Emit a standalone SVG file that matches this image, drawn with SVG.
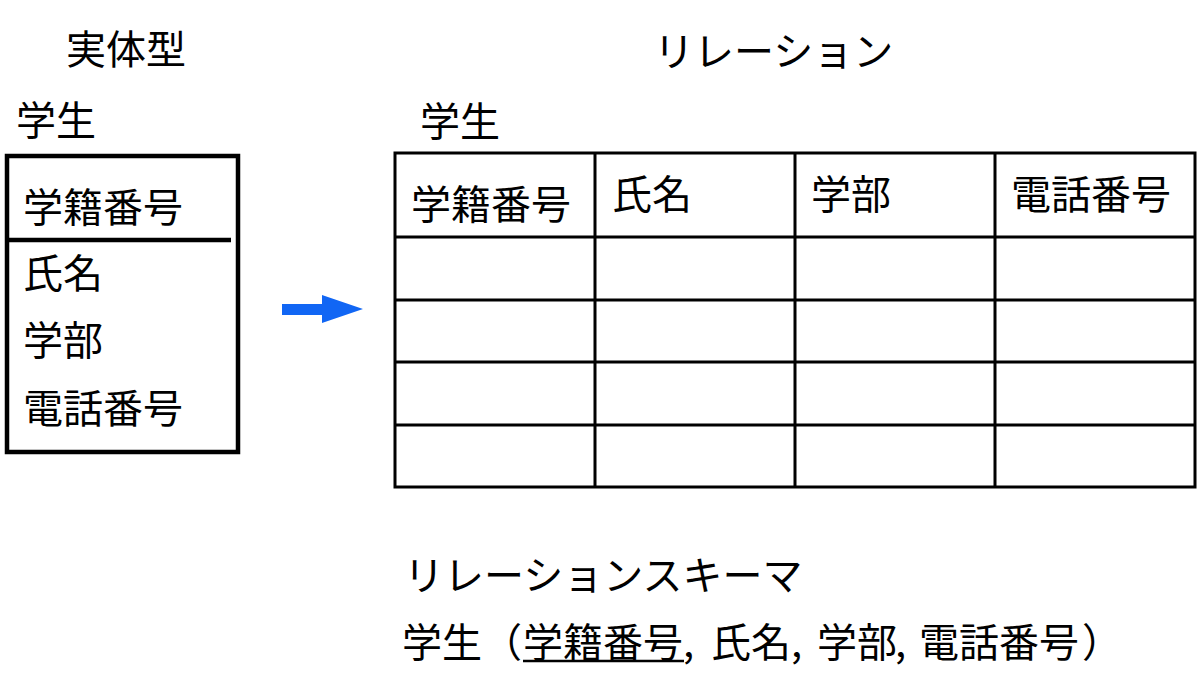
<svg xmlns="http://www.w3.org/2000/svg" width="1200" height="679" viewBox="0 0 1200 679">
<style>
text{font-family:"Noto Sans CJK JP","Noto Sans",sans-serif;font-size:40px;fill:#000}
.box{fill:none;stroke:#000;stroke-width:4.5}
.grid{stroke:#000;stroke-width:3;fill:none}
</style>
<rect width="1200" height="679" fill="#fff"/>
<text x="66" y="64">実体型</text>
<text x="654" y="66">リレーション</text>
<g id="entity">
<text x="16" y="135">学生</text>
<rect class="box" x="7" y="156" width="231" height="296"/>
<line class="box" x1="8" y1="240" x2="231" y2="240"/>
<text x="23" y="222">学籍番号</text>
<text x="23" y="288">氏名</text>
<text x="23" y="355">学部</text>
<text x="23" y="423">電話番号</text>
</g>
<g id="connectors">
<polygon points="282,304 322,304 322,295 363,309 322,323 322,315 282,315" fill="#1166F4"/>
</g>
<g id="relation">
<text x="420" y="136">学生</text>
<rect class="grid" x="395" y="153" width="800" height="334"/>
<line class="grid" x1="395" y1="237" x2="1195" y2="237"/>
<line class="grid" x1="395" y1="300" x2="1195" y2="300"/>
<line class="grid" x1="395" y1="362" x2="1195" y2="362"/>
<line class="grid" x1="395" y1="425" x2="1195" y2="425"/>
<line class="grid" x1="595" y1="153" x2="595" y2="487"/>
<line class="grid" x1="795" y1="153" x2="795" y2="487"/>
<line class="grid" x1="995" y1="153" x2="995" y2="487"/>
<text x="411" y="219">学籍番号</text>
<text x="612" y="209">氏名</text>
<text x="811" y="209">学部</text>
<text x="1011" y="209">電話番号</text>
</g>
<g id="schema">
<text x="404" y="590">リレーションスキーマ</text>
<text y="657"><tspan x="402">学生</tspan><tspan x="482">（</tspan><tspan x="523">学籍番号</tspan><tspan x="683">,</tspan><tspan x="711">氏名</tspan><tspan x="791">,</tspan><tspan x="817">学部</tspan><tspan x="895">,</tspan><tspan x="919">電話番号</tspan><tspan x="1082">）</tspan></text>
<line x1="523" y1="661" x2="684" y2="661" stroke="#000" stroke-width="2.5"/>
</g>
</svg>
